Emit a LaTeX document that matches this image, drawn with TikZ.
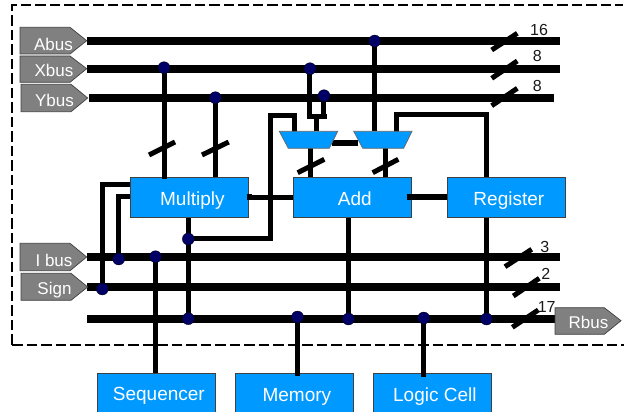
\documentclass[tikz,border=0pt]{standalone}
\usepackage{fontspec}
\setmainfont{Liberation Sans}
\definecolor{blockblue}{HTML}{0099FF}
\definecolor{dotnavy}{HTML}{000066}
\definecolor{taggray}{HTML}{808080}
\pgfdeclarelayer{back}
\pgfsetlayers{back,main}
\newcommand{\blocktxt}[1]{\hspace*{6pt}#1}
\tikzset{
  x=1pt,y=-1pt,
  bus/.style={line width=8pt,black},
  wire/.style={line width=5pt,black},
  thickwire/.style={line width=6pt,black},
  slash/.style={line width=5pt,black},
  blockbox/.style={draw=black!75,line width=0.7pt,fill=blockblue,text=white,font=\fontsize{19}{22}\selectfont,inner sep=0pt,anchor=north west,minimum width=118pt,minimum height=40pt,text height=16pt,text depth=0pt},
  jn/.style={circle,fill=dotnavy,draw=black,line width=0.3pt,minimum size=12pt,inner sep=0pt},
  tag/.style={draw=black!75,line width=0.7pt,fill=taggray},
  tagtext/.style={text=white,font=\fontsize{17}{20}\selectfont,inner sep=0pt},
  bitcount/.style={font=\fontsize{16}{18}\selectfont,inner sep=0pt,text=black!90},
  muxshape/.style={draw=black!60,line width=0.7pt,fill=blockblue},
  framedash/.style={line width=2pt,dash pattern=on 10.5pt off 4pt},
}
\newcommand{\tagshape}[4]{% x, top, bottom, tip y
  \draw[tag] (#1,#2) -- (#1+50,#2) -- (#1+66.7,#4) -- (#1+50,#3) -- (#1,#3) -- cycle;
}
\begin{document}
\begin{tikzpicture}
\useasboundingbox (0,0) rectangle (624,412);
% dashed frame
\draw[framedash] (12,344.7) -- (12,5.5) -- (623,5.5);
\draw[framedash] (12,344.7) -- (624,344.7);

% blocks
\node[blockbox] (mul) at (130,177.3) {\blocktxt{Multiply}};
\node[blockbox] (add) at (292.5,177.3) {\blocktxt{Add}};
\node[blockbox] (reg) at (446.5,177.3) {\blocktxt{Register}};
\node[blockbox] (seq) at (96.5,372.5) {\blocktxt{Sequencer}};
\node[blockbox] (mem) at (234.5,373) {\blocktxt{Memory}};
\node[blockbox] (log) at (372.5,373) {\blocktxt{Logic Cell}};

% muxes
\coordinate (muxa) at (316.3,131.3);
\coordinate (muxb) at (385,131.3);
\draw[muxshape] (279.3,131.3) -- (337.7,131.3) -- (329.3,148.3) -- (288.3,148.3) -- cycle;
\draw[muxshape] (353.7,131.3) -- (412,131.3) -- (403.7,148.3) -- (362.7,148.3) -- cycle;

% bus ends and junction places
\coordinate (ab1) at (87,40.7);   \coordinate (ab2) at (560,40.7);
\coordinate (xb1) at (87,68.7);   \coordinate (xb2) at (560,68.7);
\coordinate (yb1) at (89,98);     \coordinate (yb2) at (554,98);
\coordinate (ib1) at (87,257);    \coordinate (ib2) at (560,257);
\coordinate (sg1) at (87,287);    \coordinate (sg2) at (560,287);
\coordinate (rb1) at (87,318.7);  \coordinate (rb2) at (555,318.7);

\coordinate (jx) at (164,67.7);
\coordinate (jy) at (215.3,97.7);
\coordinate (ja) at (374.7,41);
\coordinate (jxb) at (310,68.7);
\coordinate (jyb) at (324,95.7);
\coordinate (jmul) at (188.3,239);
\coordinate (jia) at (118.7,259);
\coordinate (jib) at (155.5,256.7);
\coordinate (jsg) at (102.3,289);
\coordinate (jra) at (188.3,318.7);
\coordinate (jrb) at (297.5,317);
\coordinate (jrc) at (348.4,319);
\coordinate (jrd) at (423.7,318);
\coordinate (jre) at (486.5,319);

\begin{pgfonlayer}{back}
\draw[wire] (jx) -- (jx |- mul.north);
\draw[wire] (jy) -- (jy |- mul.north);
\draw[wire] (ja) -- (ja |- muxb);
\draw[wire] (309.5,68.7) -- (309.5,116.7);
\draw[wire] (323.5,95.7) -- (323.5,116.7);
\draw[wire] (306.7,116.7) -- (326.7,116.7);
\draw[wire] (316.3,116.7) -- (muxa);
\draw[wire] (294.3,132) -- (294.3,115.3) -- (270.5,115.3) -- (270.5,238.3) -- (188.3,238.3);
\draw[wire] (396,132) -- (396,114.3) -- (486.5,114.3) -- (486.5,178);
\draw[wire] (310.3,147) -- (310.3,178);
\draw[wire] (385,147) -- (385,178);
\draw[thickwire] (332,143) -- (358,143);
\draw[wire] (mul.south -| jmul) -- (jra);
\draw[wire] (jib) -- (jib |- seq.north);
\draw[wire] (add.south -| jrc) -- (jrc);
\draw[wire] (reg.south -| jre) -- (jre);
\draw[wire] (mul.west |- 0,184.3) -- (102.3,184.3) -- (jsg);
\draw[wire] (mul.west |- 0,196) -- (118.7,196) -- (jia);
\draw[wire] (mul.east |- 0,197) -- (add.west |- 0,197);
\draw[thickwire] (add.east |- 0,196.7) -- (reg.west |- 0,196.7);
\draw[bus] (ab1) -- (ab2);
\draw[bus] (xb1) -- (xb2);
\draw[bus] (yb1) -- (yb2);
\draw[bus] (ib1) -- (ib2);
\draw[bus] (sg1) -- (sg2);
\draw[bus] (rb1) -- (rb2);
\end{pgfonlayer}

% stubs lying over the boxes
\draw[wire] (164,170) -- (164,178.5);
\draw[thickwire] (246.7,197) -- (252,197);
\draw[thickwire] (407,196.7) -- (412,196.7);
\draw[wire] (297.4,318) -- (297.4,375.7);
\draw[wire] (423.4,318) -- (423.4,376.7);

% junctions
\foreach \c/\n in {jx/d1,jy/d2,ja/d3,jxb/d4,jyb/d5,jmul/d6,jia/d7,jib/d8,jsg/d9,jra/d10,jrb/d11,jrc/d12,jrd/d13,jre/d14}
  \node[jn] (\n) at (\c) {};

% width slashes
\foreach \a/\b/\c/\d in {
  149/155/175/142,
  202/155/228.7/142,
  297.7/172.7/324.3/159.3,
  372.7/172.7/398.3/159.3,
  491.7/50/517.3/33.3,
  491.7/78.3/517.3/61,
  491.7/105.7/517.3/88.3,
  505/266.7/531.7/249.3,
  513.3/296/539.3/278.3,
  512.3/327.3/538.3/310}
  \draw[slash] (\a,\b) -- (\c,\d);

% tags
\tagshape{20}{27.3}{54}{40.7}
\tagshape{20}{56}{82.3}{68.7}
\tagshape{21}{84.3}{111.7}{98}
\tagshape{20}{243.3}{270.7}{257}
\tagshape{21}{273.3}{300.3}{287}
\draw[tag] (555,307.7) -- (604.3,307.7) -- (621,320.7) -- (604.3,334.3) -- (555,334.3) -- cycle;
\node[tagtext] (tab) at (53.4,44) {Abus};
\node[tagtext] (txb) at (54,70) {Xbus};
\node[tagtext] (tyb) at (54.5,100.7) {Ybus};
\node[tagtext] (tib) at (54,260) {I bus};
\node[tagtext] (tsg) at (54.5,290) {Sign};
\node[tagtext] (trb) at (588.5,322.7) {Rbus};

% bit counts
\node[bitcount] (n16) at (539,30) {16};
\node[bitcount] (n8a) at (537.3,56) {8};
\node[bitcount] (n8b) at (537.3,86) {8};
\node[bitcount] (n3) at (544.7,246.7) {3};
\node[bitcount] (n2) at (545.7,274.3) {2};
\node[bitcount] (n17) at (546.7,307.3) {17};
\end{tikzpicture}
\end{document}
